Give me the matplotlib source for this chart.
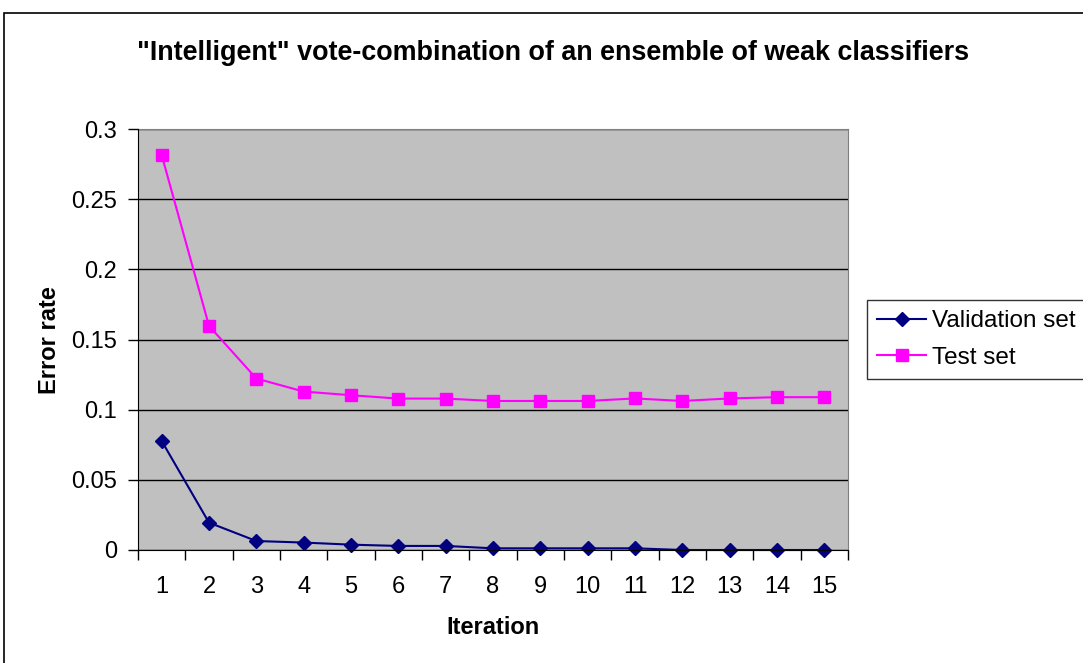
import matplotlib
matplotlib.use("Agg")
import matplotlib.pyplot as plt
from matplotlib.patches import Rectangle
from matplotlib.ticker import FixedLocator, FixedFormatter

iterations = list(range(1, 16))
validation = [0.0777, 0.0195, 0.0064, 0.0053, 0.0038, 0.0029, 0.0029, 0.0012,
              0.0012, 0.0012, 0.0012, 0.0, 0.0, 0.0, 0.0]
test = [0.2815, 0.1597, 0.1222, 0.1129, 0.1103, 0.1079, 0.1079, 0.1062,
        0.1062, 0.1062, 0.108, 0.1062, 0.108, 0.1089, 0.1089]
yticks = [0, 0.05, 0.1, 0.15, 0.2, 0.25, 0.3]
ytick_labels = ["0", "0.05", "0.1", "0.15", "0.2", "0.25", "0.3"]

plt.rcParams['font.family'] = ['Liberation Sans', 'DejaVu Sans']

fig = plt.figure(figsize=(10.83, 6.63), dpi=100)
fig.patch.set_facecolor('white')
fig.patches.append(Rectangle((4/1083, -0.1), 1.2, 1 - 13/663 + 0.1,
                             transform=fig.transFigure, fill=False,
                             edgecolor='black', linewidth=1.2, zorder=0))

ax = fig.add_axes([138/1083, 1 - 550/663, (848 - 138)/1083, (550 - 129)/663])
ax.set_facecolor('#C0C0C0')

ax.plot(iterations, validation, color='#000080', marker='D', markersize=7,
        linewidth=1.5, label='Validation set', clip_on=False, zorder=3)
ax.plot(iterations, test, color='#FF00FF', marker='s', markersize=9,
        linewidth=1.5, label='Test set', clip_on=False, zorder=3)

ax.set_xlim(0.5, 15.5)
ax.set_ylim(0, 0.3)
ax.yaxis.set_major_locator(FixedLocator(yticks))
ax.yaxis.set_major_formatter(FixedFormatter(ytick_labels))
ax.set_xticks([i + 0.5 for i in range(0, 16)])
ax.set_xticklabels([])
ax.set_xticks(iterations, minor=True)
ax.set_xticklabels([str(i) for i in iterations], minor=True)
ax.tick_params(axis='x', which='major', direction='out', length=7, width=1, color='black')
ax.tick_params(axis='x', which='minor', length=0, labelsize=17, pad=19)
ax.tick_params(axis='y', direction='out', length=7, width=1, labelsize=17, pad=8)

ax.grid(axis='y', color='black', linewidth=1)
ax.set_axisbelow(True)
for s in ['top', 'right']:
    ax.spines[s].set_color('#808080')
for s in ['left', 'bottom']:
    ax.spines[s].set_color('black')
    ax.spines[s].set_zorder(4)

ax.set_ylabel('Error rate', fontsize=17, fontweight='bold')
ax.yaxis.set_label_coords(49/1083, 1 - 340/663, transform=fig.transFigure)
ax.set_xlabel('Iteration', fontsize=17, fontweight='bold')
ax.xaxis.set_label_coords(493/1083, 1 - 627/663, transform=fig.transFigure)
ax.xaxis.label.set_va('center')
ax.yaxis.label.set_va('center')
fig.text(553/1083, 1 - 53/663, '"Intelligent" vote-combination of an ensemble of weak classifiers',
         ha='center', va='center', fontsize=19.4, fontweight='bold')

leg = ax.legend(loc='upper left', bbox_to_anchor=(867/1083, 1 - 300/663),
                bbox_transform=fig.transFigure, frameon=True, fancybox=False,
                edgecolor='black', fontsize=17.5, handlelength=2.0,
                borderaxespad=0, labelspacing=0.6, handletextpad=0.25,
                borderpad=0.42)
leg.get_frame().set_linewidth(1)

fig.savefig('out.png', dpi=100)
